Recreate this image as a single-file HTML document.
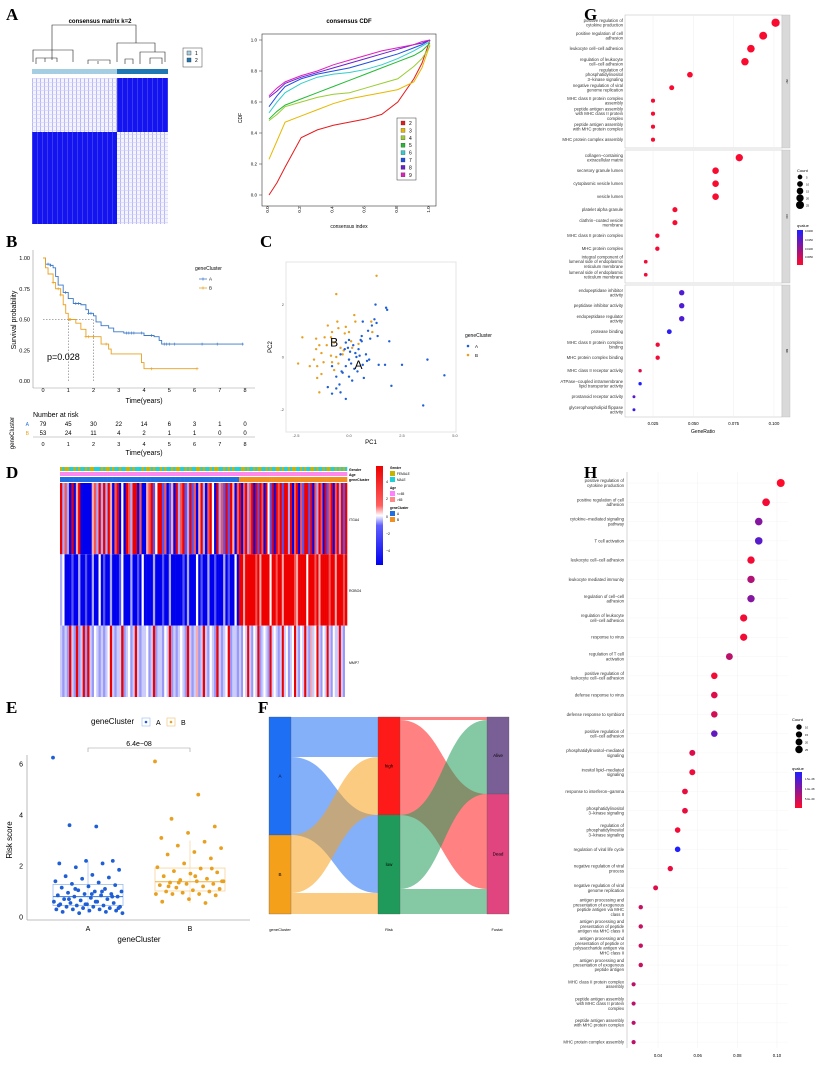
<!DOCTYPE html>
<html><head><meta charset="utf-8"><style>
html,body{margin:0;padding:0;background:#fff;}
svg{display:block;font-family:"Liberation Sans",sans-serif;}
.pl{font-family:"Liberation Serif",serif;font-weight:bold;font-size:17px;}
</style></head><body>
<svg id="fig" width="825" height="1068" viewBox="0 0 825 1068" xmlns="http://www.w3.org/2000/svg">
<defs>
<pattern id="pw" width="4" height="4" patternUnits="userSpaceOnUse"><rect width="4" height="4" fill="#f4f4ff"/><rect x="0" width="1" height="4" fill="#b8b8f6"/><rect y="2" width="4" height="0.6" fill="#d0d0fa"/></pattern>
<pattern id="pb" width="5" height="5" patternUnits="userSpaceOnUse"><rect width="5" height="5" fill="#1414f0"/><rect x="2" width="0.7" height="5" fill="#4a4af4"/></pattern>
<linearGradient id="hmcb" x1="0" y1="0" x2="0" y2="1"><stop offset="0" stop-color="#ee0000"/><stop offset="0.4" stop-color="#ff6060"/><stop offset="0.5" stop-color="#ffffff"/><stop offset="0.6" stop-color="#6060ff"/><stop offset="1" stop-color="#0000ee"/></linearGradient>
<linearGradient id="qcb" x1="0" y1="0" x2="0" y2="1"><stop offset="0" stop-color="#2020ff"/><stop offset="1" stop-color="#ff0a2a"/></linearGradient>
</defs>
<!-- Panel labels -->
<text class="pl" x="6" y="20">A</text>
<text class="pl" x="6" y="247">B</text>
<text class="pl" x="260" y="247">C</text>
<text class="pl" x="6" y="478">D</text>
<text class="pl" x="6" y="713">E</text>
<text class="pl" x="258" y="713">F</text>
<text class="pl" x="584" y="20">G</text>
<text class="pl" x="584" y="478">H</text>

<!-- A consensus matrix -->
<g>
<text x="100" y="23" font-size="6" font-weight="bold" text-anchor="middle">consensus matrix k=2</text>
<g id="dendro" stroke="#222" stroke-width="0.6" fill="none">
<path d="M52,60 V25 H136 V43"/><path d="M33,62 V50 H73 V62"/><path d="M117,62 V43 H155 V52"/>
<path d="M36,64 V58 H57 V62 M45,62 V58 M88,64 V60 H110 V64 M140,64 V52 H165 V62 M150,64 V58 H162 V64 M98,64 V61 M125,64 V59 H133 V64"/>
</g>
<rect x="32" y="69" width="85" height="5" fill="#a6cee3"/>
<rect x="117" y="69" width="51" height="5" fill="#1f78b4"/>
<rect x="32" y="78" width="85" height="54" fill="url(#pw)"/>
<rect x="117" y="78" width="51" height="54" fill="url(#pb)"/>
<rect x="32" y="132" width="85" height="92" fill="url(#pb)"/>
<rect x="117" y="132" width="51" height="92" fill="url(#pw)"/>
<rect x="183" y="48" width="19" height="19" fill="#fff" stroke="#444" stroke-width="0.5"/>
<rect x="187" y="51" width="4" height="4" fill="#a6cee3" stroke="#333" stroke-width="0.4"/><text x="195" y="55" font-size="5">1</text>
<rect x="187" y="58" width="4" height="4" fill="#1f78b4" stroke="#333" stroke-width="0.4"/><text x="195" y="62" font-size="5">2</text>
</g>

<!-- A CDF -->
<g id="cdf">
<text x="349" y="23" font-size="6" font-weight="bold" text-anchor="middle">consensus CDF</text>
<rect x="262" y="34" width="174" height="172" fill="none" stroke="#333" stroke-width="0.6"/>
<text x="349" y="228" font-size="5" text-anchor="middle">consensus index</text>
<text x="242" y="118" font-size="5" text-anchor="middle" transform="rotate(-90 242 118)">CDF</text>
<rect x="397" y="118" width="19" height="62" fill="#fff" stroke="#333" stroke-width="0.5"/>
</g>

<!-- B KM -->
<g id="km">
<line x1="33" y1="250" x2="33" y2="388" stroke="#999" stroke-width="0.6"/>
<line x1="33" y1="388" x2="255" y2="388" stroke="#999" stroke-width="0.6"/>
<text x="16" y="320" font-size="7" text-anchor="middle" transform="rotate(-90 16 320)">Survival probability</text>
<text x="144" y="403" font-size="7" text-anchor="middle">Time(years)</text>
<text x="47" y="360" font-size="9">p=0.028</text>
<line x1="43" y1="319.5" x2="94" y2="319.5" stroke="#555" stroke-width="0.5" stroke-dasharray="1.5,1.5"/>
<text x="195" y="270" font-size="5">geneCluster</text>
<text x="33" y="417" font-size="7">Number at risk</text>
<text x="14" y="433" font-size="6" text-anchor="middle" transform="rotate(-90 14 433)">geneCluster</text>
<text x="29" y="426" font-size="5" fill="#2a6fd6" text-anchor="end">A</text>
<text x="29" y="435" font-size="5" fill="#e8a020" text-anchor="end">B</text>
<line x1="33" y1="437" x2="255" y2="437" stroke="#999" stroke-width="0.6"/>
<text x="144" y="455" font-size="7" text-anchor="middle">Time(years)</text>
</g>

<!-- C PCA -->
<g id="pca">
<rect x="286" y="262" width="170" height="170" fill="#fff" stroke="#e4e4e4" stroke-width="1"/>
<text x="371" y="444" font-size="6" text-anchor="middle">PC1</text>
<text x="272" y="347" font-size="6" text-anchor="middle" transform="rotate(-90 272 347)">PC2</text>
<text x="465" y="337" font-size="5">geneCluster</text>
<circle cx="468" cy="346" r="1.3" fill="#1f5fd6"/><text x="475" y="348" font-size="4.5">A</text>
<circle cx="468" cy="355" r="1.3" fill="#e8a020"/><text x="475" y="357" font-size="4.5">B</text>
</g>

<!-- D heatmap -->
<g id="hm">
<text x="349" y="471" font-size="3.5" font-weight="bold">Gender</text>
<text x="349" y="476" font-size="3.5" font-weight="bold">Age</text>
<text x="349" y="481" font-size="3.5" font-weight="bold">geneCluster</text>
<text x="349" y="521" font-size="3.5">ITGA4</text>
<text x="349" y="592" font-size="3.5">ROBO4</text>
<text x="349" y="664" font-size="3.5">MMP7</text>
<rect x="376" y="466" width="7" height="99" fill="url(#hmcb)"/>
<text x="386" y="483" font-size="3.5">4</text><text x="386" y="500" font-size="3.5">2</text><text x="386" y="518" font-size="3.5">0</text><text x="386" y="535" font-size="3.5">−2</text><text x="386" y="552" font-size="3.5">−4</text>
<g font-size="3.2">
<text x="390" y="469" font-weight="bold">Gender</text>
<rect x="390" y="471" width="5" height="5" fill="#c8b400"/><text x="397" y="475">FEMALE</text>
<rect x="390" y="477" width="5" height="5" fill="#20d0d8"/><text x="397" y="481">MALE</text>
<text x="390" y="489" font-weight="bold">Age</text>
<rect x="390" y="491" width="5" height="5" fill="#ff80ff"/><text x="397" y="495">&lt;=65</text>
<rect x="390" y="497" width="5" height="5" fill="#ff8888"/><text x="397" y="501">&gt;65</text>
<text x="390" y="509" font-weight="bold">geneCluster</text>
<rect x="390" y="511" width="5" height="5" fill="#1f6fe0"/><text x="397" y="515">A</text>
<rect x="390" y="517" width="5" height="5" fill="#f09020"/><text x="397" y="521">B</text>
</g>
</g>

<!-- E boxplot -->
<g id="box">
<text x="91" y="724" font-size="8">geneCluster</text>
<rect x="142" y="718" width="8" height="8" fill="#fff" stroke="#9bb8e8" stroke-width="0.6"/><circle cx="146" cy="722" r="1.3" fill="#1f5fd6"/><text x="156" y="725" font-size="7">A</text>
<rect x="167" y="718" width="8" height="8" fill="#fff" stroke="#f0c070" stroke-width="0.6"/><circle cx="171" cy="722" r="1.3" fill="#e8a020"/><text x="181" y="725" font-size="7">B</text>
<line x1="27" y1="755" x2="27" y2="920" stroke="#aaa" stroke-width="0.8"/>
<line x1="27" y1="920" x2="250" y2="920" stroke="#aaa" stroke-width="0.8"/>
<text x="12" y="840" font-size="8" text-anchor="middle" transform="rotate(-90 12 840)">Risk score</text>
<text x="139" y="942" font-size="8" text-anchor="middle">geneCluster</text>
<text x="88" y="931" font-size="7" text-anchor="middle">A</text>
<text x="190" y="931" font-size="7" text-anchor="middle">B</text>
<path d="M88,752 V748 H190 V752" fill="none" stroke="#999" stroke-width="0.6"/>
<text x="139" y="746" font-size="7" text-anchor="middle">6.4e−08</text>
</g>

<!-- F sankey -->
<g id="sankey">
<text x="280" y="931" font-size="4" text-anchor="middle">geneCluster</text>
<text x="389" y="931" font-size="4" text-anchor="middle">Risk</text>
<text x="497" y="931" font-size="4" text-anchor="middle">Fustat</text>
</g>

<!-- G dotplot -->
<g id="gplot">
<text x="703" y="433" font-size="5" text-anchor="middle">GeneRatio</text>
<text x="797" y="172" font-size="4">Count</text>
<text x="797" y="227" font-size="4">qvalue</text>
<rect x="797" y="230" width="6" height="35" fill="url(#qcb)"/>
<g font-size="2.6"><text x="805" y="232">0.0200</text><text x="805" y="241">0.0150</text><text x="805" y="250">0.0100</text><text x="805" y="258">0.0050</text></g>
</g>

<!-- H dotplot -->
<g id="hplot">
<text x="792" y="721" font-size="4">Count</text>
<text x="792" y="770" font-size="4">qvalue</text>
<rect x="795" y="772" width="7" height="36" fill="url(#qcb)"/>
<g font-size="2.6"><text x="805" y="780">1.5e−08</text><text x="805" y="790">1.0e−08</text><text x="805" y="800">5.0e−09</text></g>
</g>
</svg>
<script>
// ---------- data ----------
const cdfX = [0,0.05,0.1,0.2,0.3,0.4,0.5,0.6,0.7,0.8,0.9,0.95,1.0];
const cdfK2 = [0.0,0.08,0.18,0.37,0.42,0.45,0.47,0.49,0.52,0.6,0.75,0.85,1.0];
const cdfK3 = [0.23,0.35,0.47,0.51,0.55,0.59,0.62,0.64,0.66,0.68,0.73,0.82,0.97];
const cdfK4 = [0.48,0.52,0.57,0.6,0.63,0.65,0.66,0.69,0.72,0.75,0.83,0.88,0.96];
const cdfK5 = [0.49,0.54,0.58,0.62,0.66,0.7,0.74,0.78,0.82,0.86,0.9,0.93,0.98];
const cdfK6 = [0.53,0.6,0.66,0.72,0.76,0.78,0.79,0.81,0.84,0.88,0.93,0.96,0.99];
const cdfK7 = [0.57,0.64,0.7,0.75,0.78,0.8,0.82,0.85,0.88,0.91,0.95,0.97,1.0];
const cdfK8 = [0.63,0.67,0.72,0.76,0.79,0.82,0.85,0.88,0.91,0.94,0.97,0.98,1.0];
const cdfK9 = [0.64,0.69,0.73,0.77,0.8,0.84,0.87,0.9,0.93,0.95,0.97,0.99,1.0];
const cdfTicks = [0,0.2,0.4,0.6,0.8,1.0];

const kmTimeA = [0,0.1,0.3,0.4,0.5,0.6,0.8,1.0,1.2,1.5,1.7,1.8,2.0,2.1,2.3,2.6,2.8,3.2,4.0,4.4,4.6,4.7,7.9];
const kmSurvA = [1,0.95,0.94,0.92,0.85,0.78,0.72,0.67,0.63,0.62,0.58,0.55,0.53,0.48,0.45,0.43,0.40,0.39,0.37,0.36,0.33,0.30,0.30];
const kmTimeB = [0,0.1,0.2,0.4,0.5,0.7,0.8,0.9,1.0,1.3,1.5,1.7,2.3,2.6,2.7,3.9,4.0,6.1];
const kmSurvB = [1,0.92,0.87,0.8,0.75,0.7,0.62,0.55,0.5,0.47,0.42,0.36,0.3,0.26,0.22,0.15,0.10,0.10];
const kmCensA = [0.2,0.3,0.9,1.3,1.4,1.8,1.9,3.3,3.4,3.5,3.6,3.9,4.3,4.8,4.9,5.0,5.2,6.3,6.9,7.9];
const kmCensB = [0.4,0.6,0.7,1.05,1.1,1.7,1.8,2.0,2.5,4.3,6.1];
const riskTimes = [0,1,2,3,4,5,6,7,8];
const riskA = [79,45,30,22,14,6,3,1,0];
const riskB = [53,24,11,4,2,1,1,0,0];
const kmYTicks = [0,0.25,0.5,0.75,1.0];

const pcaA1 = [1.25,1.75,1.8,1.2,1.3,1.08,0.9,1.35,1.9,0.65,0.6,0,-0.15,0.2,0.45,-0.2,0.05,-0.4,0.35,0.8,0.95,0.65,0,-0.15,0.25,-0.35,0.4,1.4,1.7,2.5,3.7,4.5,2.0,3.5,0.7,0,-0.45,-0.6,-0.8,-1.0,-0.8,-0.4,-0.15,-0.6,0.1,0.3,0.6,1.0,0.5,-0.3,0.15,0.55,0.85,-0.05];
const pcaA2 = [2.0,1.88,1.8,1.44,1.3,1.2,1.0,0.8,0.6,1.35,0.6,0.65,0.55,0.45,0.3,0.3,0.2,0.1,0,0.1,-0.1,-0.3,-0.1,-0.35,-0.45,-0.55,-0.55,-0.3,-0.3,-0.3,-0.1,-0.7,-1.1,-1.85,-0.8,-0.75,-1.05,-0.75,-0.35,-1.15,-1.4,-1.35,-1.6,-1.2,-0.25,0.15,0.8,0.7,0.05,-0.6,-0.9,0.65,-0.15,0.35];
const pcaB1 = [1.3,-0.6,0.25,0.3,-0.15,-0.55,-0.8,-0.5,-0.2,1.05,-2.2,-1.55,-1.15,-0.85,-1.4,-1.05,-0.7,-0.4,0.1,0.15,-1.55,-1.3,-0.85,-0.6,-0.3,-2.4,-1.65,-1.2,-0.8,-0.5,-1.5,-1.85,-1.3,-0.7,-1.5,-1.4,1.1,0.45,0,-1.0,-0.25];
const pcaB2 = [3.1,2.4,1.6,1.35,1.15,1.35,0.95,1.1,0.9,1.35,0.75,0.7,0.75,0.75,0.45,0.45,0.55,0.35,0.6,0.35,0.3,0.15,0.05,0,0.1,-0.25,-0.1,-0.2,-0.2,-0.25,-0.35,-0.35,-0.65,-0.5,-0.8,-1.35,0.95,0.5,0.95,1.2,0.25];
const pcaTicksX = [-2.5,0,2.5,5.0];
const pcaTicksY = [-2,0,2];

const itga4A = [3,-1,2,-1,-3,3,-3,1,3,-3,-4,-4,-4,-4,1,2,-1,3,-1,3,-1,3,1,-3,2,3,-3,0,-3,3,2,-1,3,3,-3,2,-4,-4,1,2,3,-2,0,3,3,-2,2,-3,-2,1,-3,3,-1,2,3,-2,-1,3,-2,2,-3,1,3,-1,-3,2,3,0,-3,3,-1,2,-2,3,-2,3,1,-3,2];
const itga4B = [3,-3,2,3,-1,2,3,-3,3,-2,3,2,-3,3,0,-2,3,-3,3,2,3,-2,3,3,-1,3,-3,2,3,-3,2,-2,3,3,-2,3,-3,2,-1,3,2,-3,3,-2,2,3,-3,2,3,-1,3,-2,3];
const robo4A = [-1,0,-3,-3,-3,-2,-3,-3,-1,-3,-3,-2,-3,-3,-1,-3,-3,0,-3,-2,-3,-3,-1,-3,-3,-3,-2,0,-3,-3,-3,-1,-3,-3,-2,-3,0,-3,-3,-3,-3,-1,-3,-3,-3,-2,-3,-3,-1,-3,-3,-3,-3,-3,-2,-3,-1,-3,-3,-3,0,-3,-2,-3,-3,-1,-3,-3,-2,-3,-3,-3,-1,-3,-2,-3,-3,0,-3];
const robo4B = [3,3,1,3,3,3,3,3,2,3,1,3,3,3,3,0,3,3,2,3,3,1,3,3,3,3,3,2,1,3,3,3,3,0,3,3,3,2,3,1,3,3,3,3,2,3,3,1,3,3,3,2,3];
const mmpA = [-1,-2,-1,-2,3,-1,-2,3,-2,-1,3,-2,3,-1,-2,0,-1,-2,-1,-2,-1,0,3,-1,-2,-1,-1,3,-2,-1,0,-2,-1,3,-1,-2,-1,-1,0,-2,-1,3,-2,-1,-1,-2,0,-1,3,-2,-1,-2,-1,0,-1,-2,3,-1,-2,-1,1,-2,-1,3,-1,-2,0,-1,-2,3,-1,-2,-1,0,3,-2,-1,-1,-2];
const mmpB = [-1,-2,0,-1,3,-1,-2,0,-1,3,-2,-1,0,-1,-2,3,-1,0,-1,-2,-1,3,-1,0,-2,-1,0,3,-1,-2,0,-1,3,-1,-2,1,-1,0,3,-1,-2,0,-1,3,-1,-2,0,-1,-1,3,-1,-2,0];
const genderA = [0,1,0,0,1,1,0,1,0,1,1,0,1,0,0,1,1,1,0,1,0,0,1,0,1,1,0,1,1,0,0,1,0,1,1,1,0,1,0,0,1,0,1,1,0,1,0,1,1,0,1,0,0,1,1,0,1,0,1,1,0,0,1,0,1,1,0,1,0,0,1,1,0,1,0,1,0,1,1];
const genderB = [1,0,0,1,0,1,1,0,1,0,0,1,1,0,1,0,1,1,0,0,1,0,1,1,0,1,0,0,1,1,0,1,0,1,1,0,0,1,0,1,1,0,1,0,0,1,1,0,1,0,1,0,1];

const boxA = [6.25,3.55,3.6,2.2,2.2,2.1,2.1,1.95,1.85,1.65,1.6,1.55,1.5,1.4,1.35,1.3,1.25,1.2,1.15,1.1,1.05,1.0,1.0,0.95,0.9,0.9,0.85,0.85,0.8,0.8,0.75,0.7,0.7,0.65,0.6,0.6,0.55,0.55,0.5,0.5,0.45,0.45,0.4,0.4,0.4,0.35,0.35,0.3,0.3,0.3,0.25,0.25,0.2,0.2,0.15,0.15,0.6,0.7,0.8,0.5,0.45,1.0,1.1,0.35,0.9];
const boxB = [6.1,4.8,3.85,3.55,3.3,3.1,2.95,2.8,2.7,2.55,2.45,2.3,2.1,1.95,1.9,1.8,1.75,1.7,1.6,1.5,1.45,1.4,1.4,1.35,1.3,1.3,1.25,1.2,1.15,1.1,1.05,1.0,1.0,0.95,0.9,0.9,0.9,0.85,0.7,0.6,0.55,1.35,1.4,1.6,1.2,1.9];
const boxStatsA = [0.15,0.45,0.8,1.28,2.2];
const boxStatsB = [0.55,1.02,1.38,1.92,3.0];
const boxTicks = [0,2,4,6];

const sankeyNodes1 = ['A','B'];
const sankeySize1 = [118,79];
const sankeyNodes2 = ['high','low'];
const sankeyNodes3 = ['Alive','Dead'];
const flowGeneRisk = [[40,78],[58,21]];
const flowRiskFus = [[3,95],[74,25]];

const gLabels = ["positive regulation of|cytokine production","positive regulation of cell|adhesion","leukocyte cell−cell adhesion","regulation of leukocyte|cell−cell adhesion","regulation of|phosphatidylinositol|3−kinase signaling","negative regulation of viral|genome replication","MHC class II protein complex|assembly","peptide antigen assembly|with MHC class II protein|complex","peptide antigen assembly|with MHC protein complex","MHC protein complex assembly",
"collagen−containing|extracellular matrix","secretory granule lumen","cytoplasmic vesicle lumen","vesicle lumen","platelet alpha granule","clathrin−coated vesicle|membrane","MHC class II protein complex","MHC protein complex","integral component of|lumenal side of endoplasmic|reticulum membrane","lumenal side of endoplasmic|reticulum membrane",
"endopeptidase inhibitor|activity","peptidase inhibitor activity","endopeptidase regulator|activity","protease binding","MHC class II protein complex|binding","MHC protein complex binding","MHC class II receptor activity","ATPase−coupled intramembrane|lipid transporter activity","prostanoid receptor activity","glycerophospholipid flippase|activity"];
const gRatio = [0.101,0.0933,0.0857,0.082,0.0479,0.0366,0.025,0.025,0.025,0.025, 0.0785,0.0638,0.0638,0.0638,0.0386,0.0386,0.0277,0.0277,0.0205,0.0205, 0.0428,0.0428,0.0428,0.0351,0.0279,0.0279,0.017,0.017,0.0132,0.0132];
const gQ = [0.0005,0.0005,0.0005,0.0005,0.0005,0.0005,0.0008,0.0008,0.0008,0.0008, 0.0005,0.0005,0.0005,0.0005,0.0006,0.0006,0.001,0.001,0.0012,0.0012, 0.016,0.016,0.016,0.019,0.001,0.001,0.003,0.02,0.015,0.018];
const gTicks = [0.025,0.05,0.075,0.1];
const gFacets = ['BP','CC','MF'];

const hLabels = ["positive regulation of|cytokine production","positive regulation of cell|adhesion","cytokine−mediated signaling|pathway","T cell activation","leukocyte cell−cell adhesion","leukocyte mediated immunity","regulation of cell−cell|adhesion","regulation of leukocyte|cell−cell adhesion","response to virus","regulation of T cell|activation","positive regulation of|leukocyte cell−cell adhesion","defense response to virus","defense response to symbiont","positive regulation of|cell−cell adhesion","phosphatidylinositol−mediated|signaling","inositol lipid−mediated|signaling","response to interferon−gamma","phosphatidylinositol|3−kinase signaling","regulation of|phosphatidylinositol|3−kinase signaling","regulation of viral life cycle","negative regulation of viral|process","negative regulation of viral|genome replication","antigen processing and|presentation of exogenous|peptide antigen via MHC|class II","antigen processing and|presentation of peptide|antigen via MHC class II","antigen processing and|presentation of peptide or|polysaccharide antigen via|MHC class II","antigen processing and|presentation of exogenous|peptide antigen","MHC class II protein complex|assembly","peptide antigen assembly|with MHC class II protein|complex","peptide antigen assembly|with MHC protein complex","MHC protein complex assembly"];
const hRatio = [0.1019,0.0945,0.0908,0.0908,0.0869,0.0869,0.0869,0.0832,0.0832,0.076,0.0684,0.0684,0.0684,0.0684,0.0573,0.0573,0.0536,0.0536,0.0499,0.0499,0.0462,0.0388,0.0313,0.0313,0.0313,0.0313,0.0277,0.0277,0.0277,0.0277];
const hQ = [0,0.05,0.55,0.75,0.05,0.35,0.55,0.05,0.05,0.3,0.05,0.15,0.2,0.7,0.15,0.08,0.1,0.1,0.05,1.0,0.1,0.15,0.25,0.25,0.25,0.25,0.3,0.3,0.3,0.3];
const hTicks = [0.04,0.06,0.08,0.10];

// ---------- helpers ----------
const NS='http://www.w3.org/2000/svg';
function mk(tag,attrs,parent){const e=document.createElementNS(NS,tag);for(const k in attrs)e.setAttribute(k,attrs[k]);(parent||document.getElementById('fig')).appendChild(e);return e;}
function qcol(f){f=Math.max(0,Math.min(1,f));const r=Math.round(255-f*223),g=Math.round(10+f*22),b=Math.round(42+f*213);return `rgb(${r},${g},${b})`;}
function hmcol(v){const f=Math.max(-1,Math.min(1,v/3));if(f>=0){const t=1-f;return `rgb(${Math.round(238+17*t)},${Math.round(255*t)},${Math.round(255*t)})`;}const t=1+f;return `rgb(${Math.round(255*t)},${Math.round(255*t)},${Math.round(238+17*t)})`;}

// ---------- CDF ----------
(function(){
const g=document.getElementById('cdf');
const sx=v=>269+v*161, sy=v=>195-v*155;
const series=[cdfK2,cdfK3,cdfK4,cdfK5,cdfK6,cdfK7,cdfK8,cdfK9];
const cols=['#e41a1c','#e6b800','#9acd32','#22bb33','#33cccc','#1f4fe0','#6a1fd0','#e01fbf'];
cdfTicks.forEach(t=>{
 const tl=mk('line',{x1:259,x2:262,y1:sy(t),y2:sy(t),stroke:'#333','stroke-width':0.5},g);
 
 
 const tt=mk('text',{x:257,y:sy(t)+1.5,'font-size':4.5,'text-anchor':'end'},g);tt.textContent=t.toFixed(1);
 
 
 const xl=mk('text',{x:sx(t)+1.5,y:211,'font-size':4.5,'text-anchor':'middle',transform:`rotate(-90 ${sx(t)} 211)`},g);xl.textContent=t.toFixed(1);
 
 
});
series.forEach((s,i)=>{
 const p=mk('path',{d:s.map((v,j)=>(j?'L':'M')+sx(cdfX[j])+','+sy(v)).join(''),fill:'none',stroke:cols[i],'stroke-width':1},g);
 
 
 const r=mk('rect',{x:401,y:121+i*7.4,width:4,height:4,fill:cols[i],stroke:'#333','stroke-width':0.3},g);
 
 
 const t=mk('text',{x:409,y:125+i*7.4,'font-size':5},g);t.textContent=i+2;
 
 
});
})();

// ---------- KM ----------
(function(){
const g=document.getElementById('km');
const kx=t=>43+t*25.25, ky=s=>381-s*123;
kmYTicks.forEach(t=>{const e=mk('text',{x:30,y:ky(t)+2,'font-size':5.5,'text-anchor':'end'},g);e.textContent=t.toFixed(2);
 
 });
riskTimes.forEach((t,i)=>{
 [[392],[446]].forEach(([yy])=>{const e=mk('text',{x:kx(t),y:yy,'font-size':5.5,'text-anchor':'middle'},g);e.textContent=t;
 
 });
 const a=mk('text',{x:kx(t),y:426,'font-size':6,'text-anchor':'middle'},g);a.textContent=riskA[i];
 
 
 const b=mk('text',{x:kx(t),y:435,'font-size':6,'text-anchor':'middle'},g);b.textContent=riskB[i];
 
 
});
[kx(1),kx(2)].forEach(x=>{const l=mk('line',{x1:x,x2:x,y1:319.5,y2:381,stroke:'#555','stroke-width':0.5,'stroke-dasharray':'1.5,1.5'},g);
 
 });
function step(T,S){let d='M'+kx(T[0])+','+ky(S[0]);for(let i=1;i<T.length;i++){d+='H'+kx(T[i])+'V'+ky(S[i]);}return d;}
function surv(T,S,t){let s=S[0];for(let i=0;i<T.length;i++)if(T[i]<=t)s=S[i];return s;}
[[kmTimeA,kmSurvA,kmCensA,'#3a78c8','km-curve-a'],[kmTimeB,kmSurvB,kmCensB,'#e8a020','km-curve-b']].forEach(([T,S,C,col,nm])=>{
 const p=mk('path',{d:step(T,S),fill:'none',stroke:col,'stroke-width':0.9},g);
 
 
 C.forEach(t=>{const y=ky(surv(T,S,t));const c=mk('path',{d:`M${kx(t)-1.5},${y}h3M${kx(t)},${y-1.5}v3`,stroke:col,'stroke-width':0.6},g);
 
 });
});
[['A','#3a78c8',279],['B','#e8a020',288]].forEach(([n,c,y])=>{
 const l=mk('path',{d:`M199,${y}h8M203,${y-1.5}v3`,stroke:c,'stroke-width':0.7},g);
 
 
 const t=mk('text',{x:209,y:y+1.5,'font-size':4.5},g);t.textContent=n;
 
 
});
})();

// ---------- PCA ----------
(function(){
const g=document.getElementById('pca');
const px=v=>349+v*21.2, py=v=>357-v*26.2;
pcaTicksX.forEach(t=>{const e=mk('text',{x:px(t),y:437,'font-size':4,'text-anchor':'middle',fill:'#555'},g);e.textContent=t.toFixed(1);
 
 });
pcaTicksY.forEach(t=>{const e=mk('text',{x:284,y:py(t)+1.5,'font-size':4,'text-anchor':'end',fill:'#555'},g);e.textContent=t;
 
 });
pcaB1.forEach((v,i)=>{const c=mk('circle',{cx:px(v),cy:py(pcaB2[i]),r:1.2,fill:'#e8a020'},g);
 
 });
pcaA1.forEach((v,i)=>{const c=mk('circle',{cx:px(v),cy:py(pcaA2[i]),r:1.2,fill:'#1f5fd6'},g);
 
 });
const lb=mk('text',{x:px(-0.7),y:py(0.4),'font-size':12,'text-anchor':'middle'},g);lb.textContent='B';


const la=mk('text',{x:px(0.45),y:py(-0.45),'font-size':12,'text-anchor':'middle'},g);la.textContent='A';


})();

// ---------- Heatmap ----------
(function(){
const g=document.getElementById('hm');
const x0=60,xm=239,x1=347;
function draw(arrA,arrB,y,h,colfn,nm){
 const wa=(xm-x0)/arrA.length, wb=(x1-xm)/arrB.length;
 arrA.forEach((v,i)=>{const r=mk('rect',{x:x0+i*wa,y:y,width:wa+0.3,height:h,fill:colfn(v)},g);
  
  });
 arrB.forEach((v,i)=>{const r=mk('rect',{x:xm+i*wb,y:y,width:wb+0.3,height:h,fill:colfn(v)},g);
  
  });
}
draw(genderA,genderB,467,4,v=>v?'#20d0d8':'#c8b400','gender-cell');
draw(genderA.map(()=>0),genderB.map(()=>0),472,4,()=>'#ff88ee','age-cell');
draw(genderA.map(()=>0),genderB.map(()=>1),477,5,v=>v?'#f09020':'#1f6fe0','cluster-cell');
draw(itga4A,itga4B,483,71.3,hmcol,'itga4-cell');
draw(robo4A,robo4B,554.3,71.3,hmcol,'robo4-cell');
draw(mmpA,mmpB,625.6,71.4,v=>hmcol(v<0?v*0.6:v),'mmp-cell');
})();

// ---------- Boxplot ----------
(function(){
const g=document.getElementById('box');
const by=v=>917-v*25.5;
boxTicks.forEach(t=>{const e=mk('text',{x:23,y:by(t)+2.5,'font-size':7,'text-anchor':'end'},g);e.textContent=t;
 
 });
[[boxStatsA,88,'#8fb4e8','#3a78d6',boxA,'#1f5fd6','a'],[boxStatsB,190,'#f5cf8a','#f0b040',boxB,'#e8a020','b']].forEach(([s,cx,bc,mc,pts,pc,n])=>{
 const w=mk('line',{x1:cx,x2:cx,y1:by(s[4]),y2:by(s[0]),stroke:bc,'stroke-width':0.6},g);
 
 
 const r=mk('rect',{x:cx-35,y:by(s[3]),width:70,height:by(s[1])-by(s[3]),fill:'#fff','fill-opacity':0.4,stroke:bc,'stroke-width':0.7},g);
 
 
 const m=mk('line',{x1:cx-35,x2:cx+35,y1:by(s[2]),y2:by(s[2]),stroke:mc,'stroke-width':1},g);
 
 
 pts.forEach((v,i)=>{const j=((i*0.618034)%1-0.5)*70;
  const c=mk('circle',{cx:cx+j,cy:by(v),r:1.9,fill:pc},g);
  
  });
});
})();

// ---------- Sankey ----------
(function(){
const g=document.getElementById('sankey');
const top=717,cx=[269,378,487],nw=22;
const s2=[flowGeneRisk[0][0]+flowGeneRisk[1][0],flowGeneRisk[0][1]+flowGeneRisk[1][1]];
const s3=[flowRiskFus[0][0]+flowRiskFus[1][0],flowRiskFus[0][1]+flowRiskFus[1][1]];
function band(xa,ya,xb,yb,h,col){const xm=(xa+xb)/2;
 return mk('path',{d:`M${xa},${ya}C${xm},${ya} ${xm},${yb} ${xb},${yb}V${yb+h}C${xm},${yb+h} ${xm},${ya+h} ${xa},${ya+h}Z`,fill:col,'fill-opacity':0.55},g);}
const c1=['#1f6ff5','#f5a01a'],c2=['#ff1a1a','#1f9a5a'],c3=['#7a5f96','#e0457f'];
// flows stage 1
let outOff=[top,top+sankeySize1[0]],inOff=[top,top+s2[0]];
for(let i=0;i<2;i++)for(let j=0;j<2;j++){const h=flowGeneRisk[i][j];
 const b=band(cx[0]+nw,outOff[i],cx[1],inOff[j],h,c1[i]);
 
 
 outOff[i]+=h;inOff[j]+=h;}
outOff=[top,top+s2[0]];inOff=[top,top+s3[0]];
for(let i=0;i<2;i++)for(let j=0;j<2;j++){const h=flowRiskFus[i][j];
 const b=band(cx[1]+nw,outOff[i],cx[2],inOff[j],h,c2[i]);
 
 
 outOff[i]+=h;inOff[j]+=h;}
[[sankeyNodes1,sankeySize1,c1,0],[sankeyNodes2,s2,c2,1],[sankeyNodes3,s3,c3,2]].forEach(([names,sz,cols,k])=>{
 let y=top;names.forEach((n,i)=>{
  const r=mk('rect',{x:cx[k],y:y,width:nw,height:sz[i],fill:cols[i],stroke:'#555','stroke-width':0.3},g);
  
  
  const t=mk('text',{x:cx[k]+nw/2,y:y+sz[i]/2+1.5,'font-size':4.5,'text-anchor':'middle'},g);t.textContent=n;
  
  
  y+=sz[i];});
});
})();

// ---------- Dot plots ----------
function multiText(g,x,y,str,fs){const lines=str.split('|');const lh=fs*1.1;const t=mk('text',{x:x,'font-size':fs,'text-anchor':'end',fill:'#333'},g);
 lines.forEach((l,i)=>{const s=mk('tspan',{x:x,y:y-(lines.length-1)*lh/2+i*lh+fs*0.35},t);s.textContent=l;});return t;}
(function(){
const g=document.getElementById('gplot');
const gx=v=>653+(v-0.025)*1613;
const facetY=[[15,148],[150,283],[285,417]];
facetY.forEach(([a,b],f)=>{
 const r=mk('rect',{x:625,y:a,width:157,height:b-a,fill:'#fff',stroke:'#bbb','stroke-width':0.5},g);
 
 
 gTicks.forEach(t=>{const l=mk('line',{x1:gx(t),x2:gx(t),y1:a,y2:b,stroke:'#eee','stroke-width':0.5},g);
  
  });
 const s=mk('rect',{x:782,y:a,width:8,height:b-a,fill:'#d9d9d9',stroke:'#bbb','stroke-width':0.4},g);
 
 
 const st=mk('text',{x:786,y:(a+b)/2,'font-size':3,'text-anchor':'middle',transform:`rotate(90 786 ${(a+b)/2})`},g);st.textContent=gFacets[f];
 
 
});
gRatio.forEach((v,i)=>{const f=Math.floor(i/10),k=i%10;const y=facetY[f][0]+7.7+k*13;
 const c=mk('circle',{cx:gx(v),cy:y,r:Math.sqrt(v)*13,fill:qcol(gQ[i]/0.02)},g);
 
 
 const t=multiText(g,623,y,gLabels[i],4.3);
 
 
});
gTicks.forEach(t=>{const e=mk('text',{x:gx(t),y:425,'font-size':4.3,'text-anchor':'middle'},g);e.textContent=t.toFixed(3);
 
 });
[5,10,15,20,25].forEach((n,i)=>{const c=mk('circle',{cx:800,cy:177+i*7,r:1+Math.sqrt(n)*0.6,fill:'#000'},g);
 
 
 const t=mk('text',{x:806,y:178.5+i*7,'font-size':2.8},g);t.textContent=n;
 
 });
})();
(function(){
const g=document.getElementById('hplot');
const hx=v=>658+(v-0.04)*1983;
const fr=mk('rect',{x:627,y:472,width:161,height:576,fill:'#fff'},g);


const ax=mk('line',{x1:627,x2:627,y1:472,y2:1048,stroke:'#bbb','stroke-width':0.6},g);


hTicks.forEach(t=>{const l=mk('line',{x1:hx(t),x2:hx(t),y1:472,y2:1048,stroke:'#f0f0f0','stroke-width':0.5},g);
 
 
 const e=mk('text',{x:hx(t),y:1057,'font-size':4.3,'text-anchor':'middle'},g);e.textContent=t.toFixed(2);
 
 });
hRatio.forEach((v,i)=>{const y=483+i*19.28;
 const gl=mk('line',{x1:627,x2:788,y1:y,y2:y,stroke:'#f4f4f4','stroke-width':0.4},g);
 
 
 const c=mk('circle',{cx:hx(v),cy:y,r:Math.sqrt(v)*12.5,fill:qcol(hQ[i])},g);
 
 
 const t=multiText(g,624,y,hLabels[i],4.3);
 
 
});
[10,15,20,25].forEach((n,i)=>{const c=mk('circle',{cx:799,cy:727+i*7.5,r:1+Math.sqrt(n)*0.55,fill:'#000'},g);
 
 
 const t=mk('text',{x:805,y:728.5+i*7.5,'font-size':2.8},g);t.textContent=n;
 
 });
})();
</script>
</body></html>
